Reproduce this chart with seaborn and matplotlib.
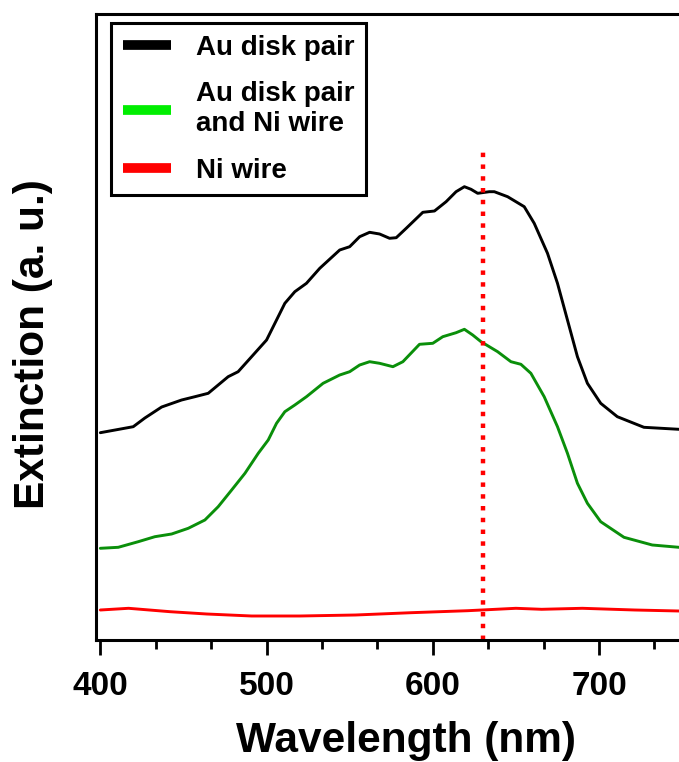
import numpy as np
import pandas as pd
import matplotlib
matplotlib.use("Agg")
import matplotlib.pyplot as plt
from matplotlib.lines import Line2D
import seaborn as sns

# wavelength (nm) / extinction (a.u.)
au_wl = [400, 419.8, 426.8, 436.9, 448.9, 456.9, 464.9, 476.9, 482.9, 491, 500, 506, 511, 517,
         524, 532, 544, 550, 556, 562, 568, 574, 578, 584, 594, 601, 608, 614, 619, 623, 627,
         634, 637, 645, 655, 661, 669, 675, 681, 687, 693, 701, 711, 727, 748, 750]
au_ext = [2.068, 2.128, 2.215, 2.325, 2.395, 2.428, 2.462, 2.628, 2.678, 2.828, 2.995, 3.195,
          3.362, 3.478, 3.562, 3.712, 3.895, 3.928, 4.028, 4.072, 4.055, 4.012, 4.018, 4.112,
          4.272, 4.285, 4.378, 4.478, 4.528, 4.502, 4.462, 4.478, 4.478, 4.428, 4.328, 4.162,
          3.862, 3.562, 3.195, 2.828, 2.562, 2.362, 2.228, 2.122, 2.102, 2.10]

auni_wl = [400, 410.8, 422.8, 432.8, 442.9, 452.9, 462.9, 470.9, 479, 487, 495, 501, 506, 511,
           517, 524, 534, 544, 550, 556, 562, 568, 576, 582, 592, 600, 606, 614, 619, 624, 629,
           634, 639, 647, 653, 659, 667, 675, 681, 687, 693, 701, 715, 732, 748, 750]
auni_ext = [0.912, 0.922, 0.978, 1.028, 1.055, 1.112, 1.195, 1.328, 1.495, 1.662, 1.862, 1.995,
            2.162, 2.278, 2.345, 2.428, 2.562, 2.645, 2.678, 2.745, 2.778, 2.762, 2.728, 2.778,
            2.952, 2.962, 3.028, 3.068, 3.102, 3.045, 2.978, 2.928, 2.878, 2.778, 2.752, 2.662,
            2.428, 2.128, 1.862, 1.562, 1.362, 1.178, 1.022, 0.945, 0.922, 0.92]

ni_wl = [400, 417, 442, 464, 491, 520, 553.5, 587, 621, 650, 665.5, 690, 721.5, 748, 750]
ni_ext = [0.295, 0.312, 0.278, 0.255, 0.235, 0.235, 0.245, 0.268, 0.288, 0.312, 0.302, 0.312,
          0.295, 0.285, 0.285]

laser_wl = 630
labels = ["Au disk pair", "Au disk pair\nand Ni wire", "Ni wire"]
xticks = [400, 500, 600, 700]

sns.set_theme(style="ticks", rc={"text.color": "black", "axes.labelcolor": "black",
                                 "xtick.color": "black", "ytick.color": "black",
                                 "axes.edgecolor": "black"})
plt.rcParams["font.family"] = ["Liberation Sans", "DejaVu Sans"]
plt.rcParams["font.weight"] = "bold"

fig = plt.figure(figsize=(6.79, 7.62), dpi=100)
ax = fig.add_axes([96 / 679, 1 - 639.5 / 762, 584.5 / 679, 625.5 / 762])

sns.lineplot(x=au_wl, y=au_ext, color="black", lw=2.1, ax=ax, legend=False)
sns.lineplot(x=auni_wl, y=auni_ext, color="#0a8f0a", lw=2.1, ax=ax, legend=False)
sns.lineplot(x=ni_wl, y=ni_ext, color="#ff0000", lw=2.1, ax=ax, legend=False)
ax.axvline(laser_wl, ymin=0, ymax=0.783, color="#ff0000", ls=":", lw=3.2)

ax.set_xlim(397.4, 749)
ax.set_ylim(0, 6.255)
ax.set_xticks(xticks)
ax.set_xticks(np.arange(400, 750, 100 / 3), minor=True)
ax.set_yticks([])
ax.tick_params(axis="x", which="major", direction="out", length=11, width=2, pad=11.5,
               labelsize=24, labelcolor="black")
ax.tick_params(axis="x", which="minor", direction="out", length=6.5, width=2)
for lab in ax.get_xticklabels():
    lab.set_fontweight("bold")
for s in ax.spines.values():
    s.set_linewidth(2.2)
    s.set_color("black")

ax.set_xlabel("Wavelength (nm)", fontsize=30.5, fontweight="bold", color="black")
ax.set_ylabel("Extinction (a. u.)", fontsize=30.5, fontweight="bold", color="black")
ax.xaxis.set_label_coords(0.530, -0.163)
ax.xaxis.label.set_va("center")
ax.yaxis.set_label_coords(-0.108, 0.472)
ax.yaxis.label.set_va("center")

handles = [Line2D([], [], color="black", lw=7, solid_capstyle="butt"),
           Line2D([], [], color="#00ee00", lw=7, solid_capstyle="butt"),
           Line2D([], [], color="#ff0000", lw=7, solid_capstyle="butt")]
leg = ax.legend(handles, labels, loc="upper left", bbox_to_anchor=(0.0257, 0.9856),
                borderaxespad=0, fontsize=20, frameon=True, fancybox=False,
                edgecolor="black", framealpha=1, handlelength=1.73, handletextpad=0.9,
                borderpad=0.42, labelspacing=0.74)
leg.get_frame().set_linewidth(2.2)
for t in leg.get_texts():
    t.set_fontweight("bold")
    t.set_color("black")

fig.savefig("out.png", dpi=100)
